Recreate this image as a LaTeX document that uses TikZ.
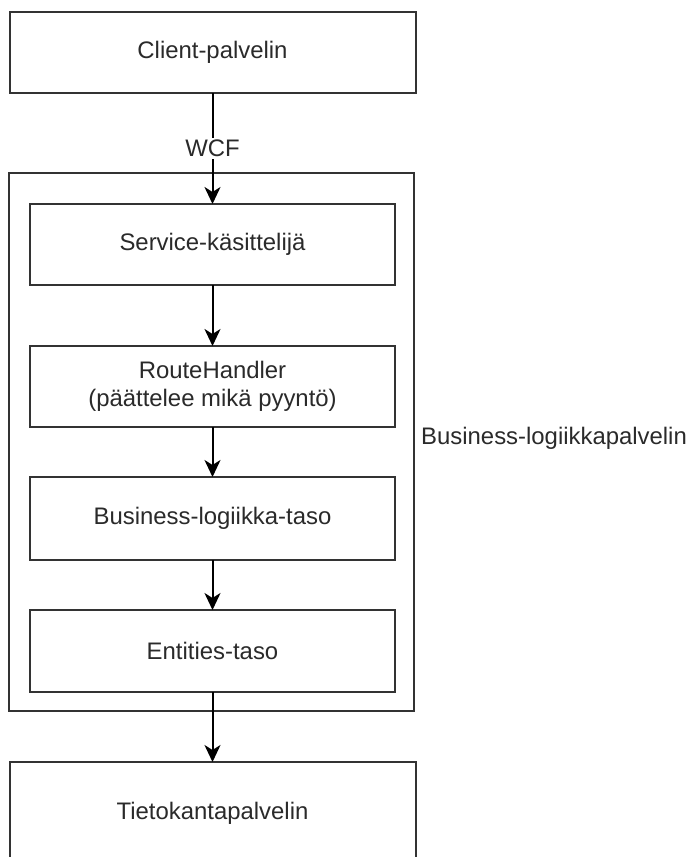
\documentclass[tikz,border=0pt]{standalone}
\usepackage{fontspec}
\setmainfont{Liberation Sans}
\usetikzlibrary{arrows.meta}
\definecolor{edge}{HTML}{333333}
\definecolor{txt}{HTML}{2A2A2A}
\begin{document}
\begin{tikzpicture}[x=1pt,y=-1pt,
  every node/.style={font=\fontsize{23.9}{28}\selectfont, text=txt},
  box/.style={draw=edge, line width=2pt, fill=white, inner sep=0pt, outer sep=0pt,
              minimum height=81pt, align=center},
  bigbox/.style={box, minimum width=406pt},
  smallbox/.style={box, minimum width=365pt},
  conn/.style={line width=2pt, draw=black, -{Stealth[length=17pt,width=16pt,inset=5pt]}}
]
\useasboundingbox (0,0) rectangle (691,857);
\begin{scope}
\clip (0,0) rectangle (691,857);
\node[bigbox] (client) at (212.5,52.5) {Client-palvelin};
\node[box, minimum width=405pt, minimum height=538pt] (outer) at (211.5,442) {};
\node[smallbox] (service) at (212.5,244.5) {Service-käsittelijä};
\node[smallbox] (route) at (212.5,386.5) {RouteHandler\\(päättelee mikä pyyntö)};
\node[smallbox, minimum height=83pt] (biz) at (212.5,518.5) {Business-logiikka-taso};
\node[smallbox, minimum height=82pt] (ent) at (212.5,651) {Entities-taso};
\node[bigbox, minimum height=102pt] (tieto) at (212.5,813) {Tietokantapalvelin};
\node[anchor=west, inner sep=0pt] (outerlabel) at (421,438) {Business-logiikkapalvelin};
\draw[conn] (client.south) -- node[fill=white, inner sep=2pt, pos=0.5] (wcf) {WCF} (service.north);
\draw[conn] (service.south) -- (route.north);
\draw[conn] (route.south) -- (biz.north);
\draw[conn] (biz.south) -- (ent.north);
\draw[conn] (ent.south) -- (tieto.north);
\end{scope}
\end{tikzpicture}
\end{document}
